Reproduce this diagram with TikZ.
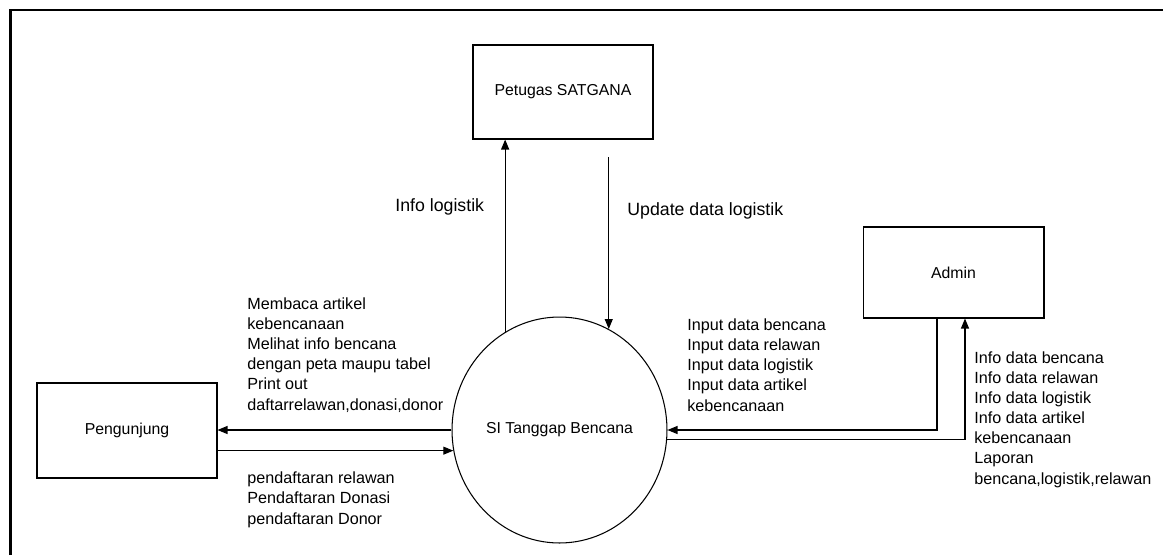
\documentclass[tikz,border=0pt]{standalone}
\usepackage{fontspec}
\setmainfont{Liberation Sans}
\usetikzlibrary{arrows.meta,shapes.geometric}

\begin{document}
\begin{tikzpicture}[x=0.02cm, y=-0.02cm, >={Triangle[length=0.2cm,width=0.16cm]},
    entity/.style={draw, line width=0.6pt, minimum width=3.6cm, minimum height=1.88cm, inner sep=0, font=\fontsize{9}{11}\selectfont},
    flow/.style={->, line width=0.6pt},
    lbl/.style={anchor=base west, inner sep=0, align=left, font=\fontsize{9.2}{11.4}\selectfont},
    biglbl/.style={lbl, font=\fontsize{10.1}{12}\selectfont}]
            \useasboundingbox (0,0) rectangle (1163,555);
            \draw[line width=1.6pt] (10.5,555) -- (10.5,10) -- (1163,10);

            \node[entity] (satgana) at (563,92) {Petugas SATGANA};
            \node[entity, minimum height=1.9cm] (pengunjung) at (127,430.5) {Pengunjung};
            \node[entity, minimum width=3.62cm, minimum height=1.82cm] (admin) at (953.5,272.5) {Admin};
            \node[draw, ellipse, line width=0.6pt, minimum width=4.3cm, minimum height=4.52cm, inner sep=0, font=\fontsize{9}{11}\selectfont] (sys) at (559.5,430) {SI Tanggap Bencana};

            \coordinate (updtop) at (608,157);
            \draw[flow] (sys.119.2) -- (sys.119.2 |- satgana.south);
            \draw[flow] (sys.64.3 |- updtop) -- (sys.64.3);
            \draw[flow] (sys.west) -- (sys.west -| pengunjung.east);
            \draw[flow] (sys.191.25 -| pengunjung.east) -- (sys.191.25);
            \draw[flow] ([xshift=-0.33cm]admin.south) |- (sys.east);
            \draw[flow] (sys.-5.3) -| ([xshift=0.23cm]admin.south);

            \node[biglbl] (infolog) at (395,211) {Info logistik};
            \node[biglbl] (update) at (627,215) {Update data logistik};
            \node[lbl] (membaca) at (247,410) {Membaca artikel\\kebencanaan\\Melihat info bencana\\dengan peta maupu tabel\\Print out\\daftarrelawan,donasi,donor};
            \node[lbl] (daftar) at (247,524) {pendaftaran relawan\\Pendaftaran Donasi\\pendaftaran Donor};
            \node[lbl] (input) at (687,411) {Input data bencana\\Input data relawan\\Input data logistik\\Input data artikel\\kebencanaan};
            \node[lbl] (infodata) at (974,484) {Info data bencana\\Info data relawan\\Info data logistik\\Info data artikel\\kebencanaan\\Laporan\\bencana,logistik,relawan};
        \end{tikzpicture}
\end{document}
